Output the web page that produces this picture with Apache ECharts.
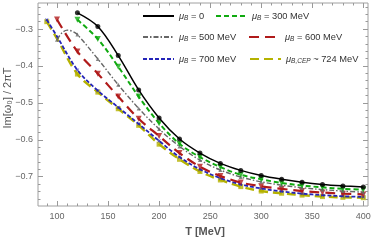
<!DOCTYPE html>
<html><head><meta charset="utf-8">
<script src="https://cdn.jsdelivr.net/npm/echarts@6/dist/echarts.min.js"></script>
<style>html,body{margin:0;padding:0;background:#fff}#c{width:374px;height:242px}</style>
</head><body><div id="c"></div>
<script>
// ---- data ----
var T_black = [120,140,160,180,200,220,240,260,280,300,320,340,360,380,400];
var V_black = [-0.256,-0.293,-0.372,-0.465,-0.541,-0.598,-0.636,-0.664,-0.683,-0.697,-0.707,-0.715,-0.721,-0.725,-0.728];
var T_green = [120,140,160,180,200,220,240,260,280,300,320,340,360,380,400];
var V_green = [-0.275,-0.327,-0.402,-0.483,-0.555,-0.611,-0.647,-0.674,-0.695,-0.707,-0.717,-0.724,-0.729,-0.733,-0.735];
var T_gray = [100,105,110,115,120,140,160,180,200,220,240,260,280,300,320,340,360,380,400];
var V_gray = [-0.329,-0.310,-0.303,-0.306,-0.315,-0.381,-0.451,-0.515,-0.571,-0.618,-0.655,-0.682,-0.701,-0.714,-0.723,-0.730,-0.735,-0.739,-0.742];
var T_red = [100,120,140,160,180,200,220,240,260,280,300,320,340,360,380,400];
var V_red = [-0.274,-0.361,-0.421,-0.483,-0.543,-0.590,-0.636,-0.673,-0.698,-0.716,-0.726,-0.733,-0.739,-0.743,-0.746,-0.748];
var T_blue = [90,100,120,140,160,180,200,220,240,260,280,300,320,340,360,380,400];
var V_blue = [-0.275,-0.320,-0.411,-0.467,-0.512,-0.557,-0.603,-0.647,-0.680,-0.704,-0.721,-0.732,-0.740,-0.746,-0.750,-0.753,-0.755];
var T_yel = [90,100,120,140,160,180,200,220,240,260,280,300,320,340,360,380,400];
var V_yel = [-0.280,-0.326,-0.422,-0.471,-0.516,-0.561,-0.612,-0.653,-0.686,-0.709,-0.727,-0.739,-0.745,-0.750,-0.754,-0.756,-0.757];
// marker temperatures
var M_black = [120,140,160,180,200,220,240,260,280,300,320,340,360,380,400];
var M_green = [120,140,160,180,200,220,240,260,280,300,320,340,360,380,400];
var M_gray = [100,120,140,160,180,200,220,240,260,280,300,320,340,360,380,400];
var M_red = [100,120,140,160,180,200,220,240,260,280,300,320,340,360,380,400];
var M_blue = [90,120,140,160,180,200,220,240,260,280,300,320,340,360,380,400];
var M_yel = [90,120,140,160,180,200,220,240,260,280,300,320,340,360,380,400];
var xMajor = [100,150,200,250,300,350,400];
var xMinor = [90,100,110,120,130,140,150,160,170,180,190,200,210,220,230,240,250,260,270,280,290,300,310,320,330,340,350,360,370,380,390,400];
var yMajor = [-0.7,-0.6,-0.5,-0.4,-0.3];
var yMinor = [-0.78,-0.76,-0.74,-0.72,-0.7,-0.68,-0.66,-0.64,-0.62,-0.6,-0.58,-0.56,-0.54,-0.52,-0.5,-0.48,-0.46,-0.44,-0.42,-0.4,-0.38,-0.36,-0.34,-0.32,-0.3,-0.28,-0.26,-0.24];
var labels = {
  b0: '{m|μ}{s|B}{t| = 0}',
  b300: '{m|μ}{s|B}{t| = 300 MeV}',
  b500: '{m|μ}{s|B}{t| = 500 MeV}',
  b600: '{m|μ}{s|B}{t| = 600 MeV}',
  b700: '{m|μ}{s|B}{t| = 700 MeV}',
  bcep: '{m|μ}{s|B,CEP}{t| ~ 724 MeV}'
};

function pairs(T, V){ return T.map(function(t,i){return [t,V[i]];}); }
function pick(T, V, M){ var o=[]; T.forEach(function(t,i){ if(M.indexOf(t)>=0) o.push([t,V[i]]); }); return o; }

var FONT = 'Liberation Sans, Arial, sans-serif';
var sets = [
  {name:'bcep', T:T_yel, V:V_yel, M:M_yel, color:'#b5b200', width:2.4, type:[9,5], sym:'rect', size:5, rot:0},
  {name:'b700', T:T_blue, V:V_blue, M:M_blue, color:'#2424b8', width:1.8, type:[4,2], sym:'path://M0,-5L1.2,-1.2L5,0L1.2,1.2L0,5L-1.2,1.2L-5,0L-1.2,-1.2Z', size:5, rot:45},
  {name:'b600', T:T_red, V:V_red, M:M_red, color:'#b01a1a', width:2.2, type:[10,6], sym:'triangle', size:6, rot:180},
  {name:'b500', T:T_gray, V:V_gray, M:M_gray, color:'#666666', width:1.4, type:[5,2,1.5,2], sym:'triangle', size:4, rot:0},
  {name:'b300', T:T_green, V:V_green, M:M_green, color:'#10aa10', width:2, type:[5,3], sym:'triangle', size:6, rot:180},
  {name:'b0', T:T_black, V:V_black, M:M_black, color:'#000000', width:1.5, type:'solid', sym:'circle', size:5, rot:0}
];
var series = [];
sets.forEach(function(s, k){
  series.push({name:s.name, type:'line', smooth:0.35, symbol:'none', data:pairs(s.T,s.V),
    lineStyle:{color:s.color, width:s.width, type:s.type}, itemStyle:{color:s.color}, z:2+k, animation:false});
  series.push({type:'scatter', data:pick(s.T,s.V,s.M), symbol:s.sym, symbolSize:s.size, symbolRotate:s.rot,
    itemStyle:{color:s.color}, z:2+k, animation:false, silent:true});
});

var FS = 9.3;
var rich = {
  m:{fontFamily:FONT, fontStyle:'italic', fontSize:FS, color:'#333', lineHeight:14},
  s:{fontFamily:FONT, fontStyle:'italic', fontSize:6.5, color:'#333', padding:[5,0,0,0], lineHeight:14},
  t:{fontFamily:FONT, fontSize:FS, color:'#333', lineHeight:14}
};
function legendItem(name, left, cy){
  return {left:left, top:cy-7, padding:0, orient:'horizontal', itemWidth:31, itemHeight:14, itemGap:0,
    data:[{name:name, itemStyle:{opacity:0}}], itemStyle:{opacity:0},
    formatter:function(n){return labels[n];}, textStyle:{rich:rich, fontSize:FS}, selectedMode:false};
}
function axisCfg(dim, pos, vals, len, showLabel){
  return {type:'value', position:pos, min: dim==='x'?81.4:-0.7795, max: dim==='x'?404.6:-0.2294,
    axisLine:{show:false}, splitLine:{show:false},
    axisTick:{show:true, inside:true, length:len, customValues:vals, lineStyle:{color:'#999', width:1}},
    axisLabel:{show:showLabel, customValues:vals, color:'#666', fontSize:9, fontFamily:FONT}};
}
var chart = echarts.init(document.getElementById('c'), null, {renderer:'canvas'});
chart.setOption({
  animation:false,
  grid:{left:38, top:3, width:330, height:203, show:true, borderColor:'#a0a0a0', borderWidth:1, backgroundColor:'transparent'},
  xAxis:[
    axisCfg('x','bottom',xMajor,5,true),
    axisCfg('x','bottom',xMinor,2.5,false),
    axisCfg('x','top',xMajor,5,false),
    axisCfg('x','top',xMinor,2.5,false)
  ],
  yAxis:[
    axisCfg('y','left',yMajor,5,true),
    axisCfg('y','left',yMinor,2.5,false),
    axisCfg('y','right',yMajor,5,false),
    axisCfg('y','right',yMinor,2.5,false)
  ],
  legend:[
    legendItem('b0',142,17), legendItem('b300',215,17),
    legendItem('b500',142,38), legendItem('b600',248,38),
    legendItem('b700',142,60), legendItem('bcep',249,60)
  ],
  series:series,
  graphic:[
    {type:'text', x:8, y:98, rotation:Math.PI/2, style:{text:'Im[ω₀] / 2πT', fill:'#555', font:'11px '+FONT, textAlign:'center', textVerticalAlign:'middle'}},
    {type:'text', x:205, y:232, style:{text:'T [MeV]', fill:'#555', font:'bold 11px '+FONT, textAlign:'center', textVerticalAlign:'middle'}}
  ]
});
chart.setOption({yAxis:[{axisLabel:{formatter:function(v){return '\u2212'+Math.abs(v).toFixed(1);}, margin:5}}]});
chart.setOption({xAxis:[{axisLabel:{margin:6}}]});
</script></body></html>
